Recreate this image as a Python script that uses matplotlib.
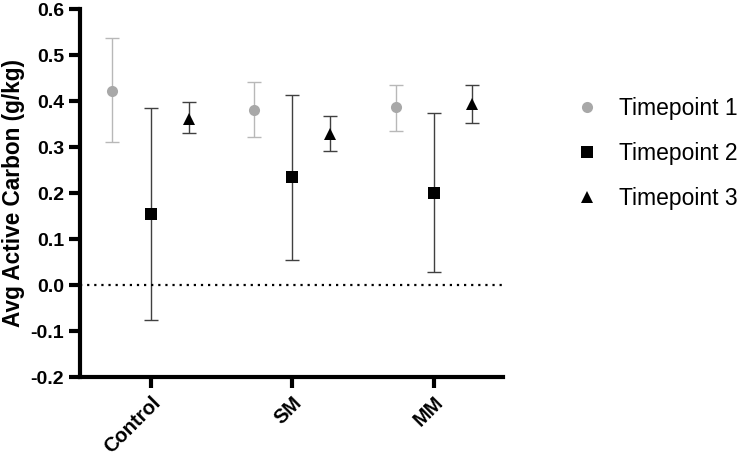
import matplotlib.pyplot as plt
from matplotlib.lines import Line2D
import numpy as np

plt.rcParams['font.family'] = ['Liberation Sans', 'DejaVu Sans']

groups = ['Control', 'SM', 'MM']
series = ['Timepoint 1', 'Timepoint 2', 'Timepoint 3']
means = {
    'Timepoint 1': [0.423, 0.381, 0.387],
    'Timepoint 2': [0.154, 0.234, 0.201],
    'Timepoint 3': [0.362, 0.329, 0.393],
}
err_lo = {
    'Timepoint 1': [0.310, 0.321, 0.336],
    'Timepoint 2': [-0.076, 0.055, 0.028],
    'Timepoint 3': [0.331, 0.292, 0.352],
}
err_hi = {
    'Timepoint 1': [0.538, 0.441, 0.436],
    'Timepoint 2': [0.384, 0.413, 0.374],
    'Timepoint 3': [0.397, 0.367, 0.434],
}
offsets = [-0.27, 0.0, 0.27]
markers = ['o', 's', '^']
colors = ['#a8a8a8', 'black', 'black']
ecolors = ['#b8b8b8', '#404040', '#404040']
msizes = [8, 9, 8.5]

fig = plt.figure(figsize=(7.4, 4.57), dpi=100)
ax = fig.add_axes([0.108, 0.175, 0.572, 0.805])

x = np.arange(len(groups))
handles = []
for s, off, m, c, ec, ms in zip(series, offsets, markers, colors, ecolors, msizes):
    y = np.array(means[s])
    lo = y - np.array(err_lo[s])
    hi = np.array(err_hi[s]) - y
    ax.errorbar(x + off, y, yerr=[lo, hi], fmt='none', ecolor=ec,
                elinewidth=1, capsize=4.7, capthick=1, zorder=2)
    ax.plot(x + off, y, m, color=c, markersize=ms, markeredgewidth=0, zorder=3)
    handles.append(Line2D([], [], marker=m, color=c, linestyle='none',
                          markersize=ms, markeredgewidth=0, label=s))

ax.axhline(0, color='black', linestyle=(0, (1, 2.2)), linewidth=1.6)

ax.set_xlim(-0.5, 2.49)
ax.set_ylim(-0.2, 0.6)
yt = np.arange(-0.2, 0.61, 0.1)
ax.set_yticks(yt)
ax.set_yticklabels(['%.1f' % v for v in yt], fontsize=14, fontweight='bold')
ax.set_xticks(x)
ax.set_xticklabels(groups, rotation=45, ha='right', rotation_mode='anchor',
                   fontsize=14.5, fontweight='bold')
ax.set_ylabel('Avg Active Carbon (g/kg)', fontsize=16.3, fontweight='bold')
ax.yaxis.set_label_coords(-0.13, 0.5)

for side in ['top', 'right']:
    ax.spines[side].set_visible(False)
for side in ['left', 'bottom']:
    ax.spines[side].set_linewidth(3)
ax.tick_params(width=3, length=8)

ax.legend(handles=handles, loc='center left', bbox_to_anchor=(1.122, 0.607),
          frameon=False, fontsize=16.5, handletextpad=0.9, labelspacing=0.97,
          handlelength=1.0)

fig.savefig('out.png', dpi=100)
